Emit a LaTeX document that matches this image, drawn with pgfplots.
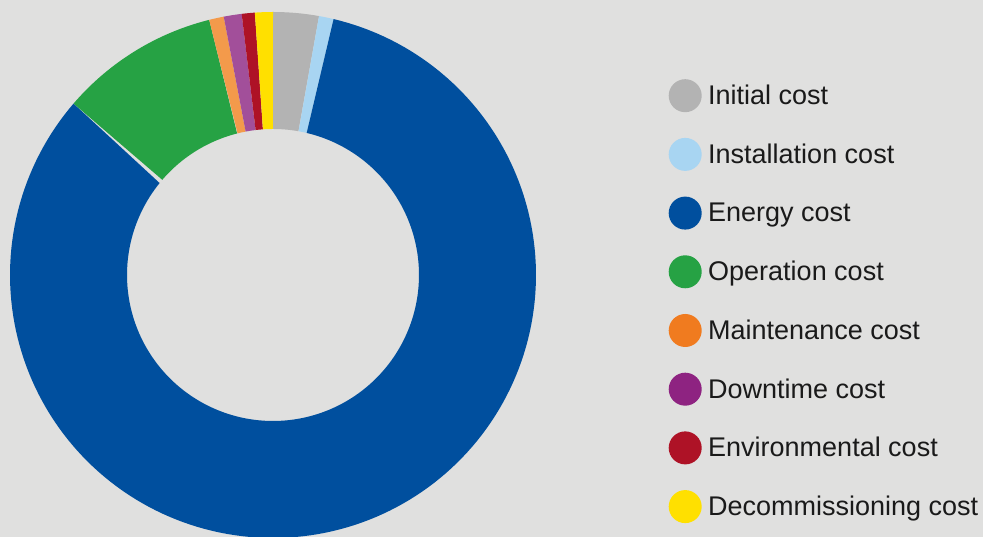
\documentclass[border=0pt]{standalone}
\usepackage{pgfplots}
\pgfplotsset{compat=1.18}
\usepackage{fontspec}
\setmainfont{Liberation Sans}
\definecolor{bg}{HTML}{E0E0DF}
\definecolor{cgray}{HTML}{B3B3B3}
\definecolor{clblue}{HTML}{A8D5F2}
\definecolor{cblue}{HTML}{004F9E}
\definecolor{cgreen}{HTML}{26A244}
\definecolor{corange}{HTML}{F39A4B}
\definecolor{lorange}{HTML}{F07B1F}
\definecolor{cpurple}{HTML}{A24F9A}
\definecolor{lpurple}{HTML}{8E2381}
\definecolor{cred}{HTML}{AE1226}
\definecolor{cyellow}{HTML}{FFE000}
\definecolor{ctext}{HTML}{1A1A1A}
% #1 fill colour, #2 cumulative start (%), #3 value (%), #4 legend colour, #5 name
\newcommand{\ring}[5]{%
  \addplot[fill=#1, draw=none, domain=0:2, samples=361, variable=\t,
    legend image code/.code={\fill[#4] (0pt,0pt) circle (16.5pt); \path (23pt,0pt);}]
  ({273 + ((\t<=1) ? 263 : 146)*sin(3.6*(#2 + #3*((\t<=1) ? \t : (2-\t))))},
   {262 + ((\t<=1) ? 263 : 146)*cos(3.6*(#2 + #3*((\t<=1) ? \t : (2-\t))))});
  \addlegendentry{#5}
}
\begin{document}
\begin{tikzpicture}
\fill[bg] (0,0) rectangle (983pt,537pt);
\begin{axis}[
  x=1pt, y=1pt, xmin=0, xmax=983, ymin=0, ymax=537,
  anchor=origin, at={(0,0)}, hide axis, clip=true,
  legend cell align=left,
  legend style={at={(axis cs:665.5,460)}, anchor=north west, draw=none, fill=none,
    font=\fontsize{27}{32}\selectfont\color{ctext}, row sep=25.7pt,
    nodes={inner sep=0pt}},
]
\ring{cgray}{0}{2.8}{cgray}{Initial cost}
\ring{clblue}{2.8}{0.9}{clblue}{Installation cost}
\ring{cblue}{3.7}{82.6}{cblue}{Energy cost}
\ring{cgreen}{86.3}{9.8}{cgreen}{Operation cost}
\ring{corange}{96.1}{0.9}{lorange}{Maintenance cost}
\ring{cpurple}{97.0}{1.1}{lpurple}{Downtime cost}
\ring{cred}{98.1}{0.8}{cred}{Environmental cost}
\ring{cyellow}{98.9}{1.1}{cyellow}{Decommissioning cost}
\end{axis}
\pgfresetboundingbox
\useasboundingbox (0,0) rectangle (983pt,537pt);
\end{tikzpicture}
\end{document}
